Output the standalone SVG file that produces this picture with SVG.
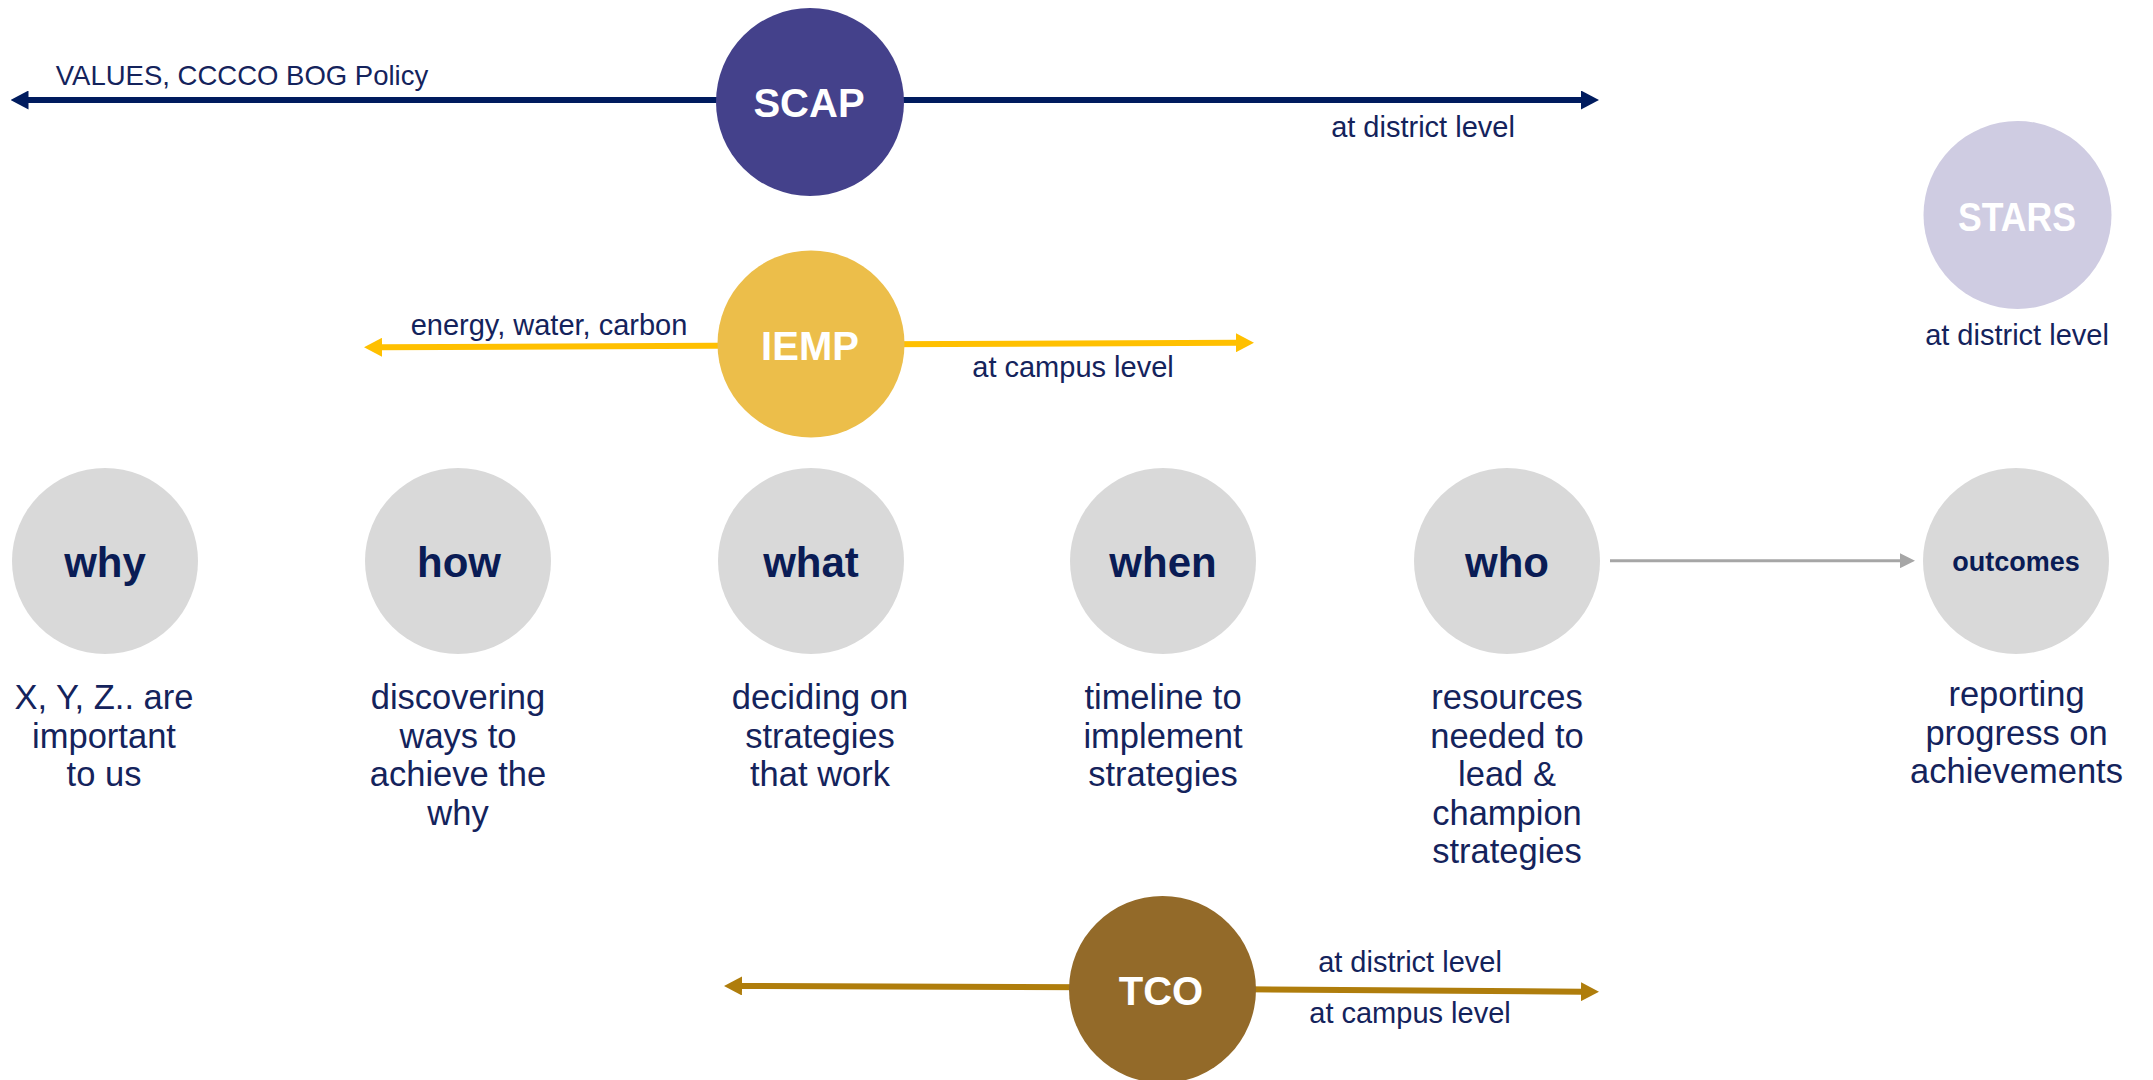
<svg xmlns="http://www.w3.org/2000/svg" width="2153" height="1080" viewBox="0 0 2153 1080">
<style>
  .lbl { font-family: "Liberation Sans", Arial, sans-serif; font-size: 29px; fill: #14235C; }
  .desc { font-family: "Liberation Sans", Arial, sans-serif; font-size: 34.5px; fill: #14235C; text-anchor: middle; }
  .ttl { font-family: "Liberation Sans", Arial, sans-serif; font-size: 42px; font-weight: bold; fill: #0A1C55; text-anchor: middle; }
  .big { font-family: "Liberation Sans", Arial, sans-serif; font-size: 40px; font-weight: bold; fill: #FFFFFF; text-anchor: middle; }
  .gray { fill: #D9D9D9; }
</style>
<defs>
  <marker id="hNavy" markerUnits="userSpaceOnUse" markerWidth="18" markerHeight="19" refX="2" refY="9.5" orient="auto"><path d="M0,0 L18,9.5 L0,19 z" fill="#001B5E"/></marker>
  <marker id="hGold" markerUnits="userSpaceOnUse" markerWidth="18" markerHeight="19" refX="2" refY="9.5" orient="auto"><path d="M0,0 L18,9.5 L0,19 z" fill="#FFC000"/></marker>
  <marker id="hBrown" markerUnits="userSpaceOnUse" markerWidth="18" markerHeight="19" refX="2" refY="9.5" orient="auto"><path d="M0,0 L18,9.5 L0,19 z" fill="#AF7D0C"/></marker>
  <marker id="hGray" markerUnits="userSpaceOnUse" markerWidth="15" markerHeight="15" refX="2" refY="7.5" orient="auto"><path d="M0,0 L15,7.5 L0,15 z" fill="#A6A6A6"/></marker>
</defs>
<rect width="2153" height="1080" fill="#FFFFFF"/>

<g id="connectors">
  <line x1="810" y1="100" x2="26.5" y2="100" stroke="#001B5E" stroke-width="6" marker-end="url(#hNavy)"/>
  <line x1="810" y1="100" x2="1583" y2="100" stroke="#001B5E" stroke-width="6" marker-end="url(#hNavy)"/>
  <line x1="811" y1="345.3" x2="380" y2="347.3" stroke="#FFC000" stroke-width="6" marker-end="url(#hGold)"/>
  <line x1="811" y1="344.6" x2="1238" y2="342.7" stroke="#FFC000" stroke-width="6" marker-end="url(#hGold)"/>
  <line x1="1162" y1="987.6" x2="740" y2="986" stroke="#AF7D0C" stroke-width="6" marker-end="url(#hBrown)"/>
  <line x1="1162" y1="988.6" x2="1583" y2="991.7" stroke="#AF7D0C" stroke-width="6" marker-end="url(#hBrown)"/>
  <line x1="1610" y1="560.7" x2="1902" y2="560.7" stroke="#A6A6A6" stroke-width="3" marker-end="url(#hGray)"/>
</g>

<g id="labels">
  <text class="lbl" x="242" y="85" text-anchor="middle" style="font-size:27.5px">VALUES, CCCCO BOG Policy</text>
  <text class="lbl" x="1423" y="137" text-anchor="middle">at district level</text>
  <text class="lbl" x="549" y="335" text-anchor="middle">energy, water, carbon</text>
  <text class="lbl" x="1073" y="377" text-anchor="middle">at campus level</text>
  <text class="lbl" x="1410" y="972" text-anchor="middle">at district level</text>
  <text class="lbl" x="1410" y="1023" text-anchor="middle">at campus level</text>
</g>

<g id="node-scap">
  <circle cx="810" cy="102" r="94" fill="#44418B"/>
  <text class="big" x="809" y="117">SCAP</text>
</g>
<g id="node-iemp">
  <circle cx="811" cy="344" r="93.5" fill="#ECBE4A"/>
  <text class="big" x="810" y="360">IEMP</text>
</g>
<g id="node-tco">
  <circle cx="1162.5" cy="989.5" r="93.5" fill="#936A29"/>
  <text class="big" x="1161" y="1005">TCO</text>
</g>
<g id="node-stars">
  <circle cx="2017.5" cy="215" r="94" fill="#CFCCE2"/>
  <text class="big" x="2017" y="231" textLength="118" lengthAdjust="spacingAndGlyphs">STARS</text>
  <text class="lbl" x="2017" y="345" text-anchor="middle">at district level</text>
</g>

<g id="node-why">
  <circle class="gray" cx="105" cy="561" r="93"/>
  <text class="ttl" x="105" y="577">why</text>
  <text class="desc" x="104" y="709">X, Y, Z.. are</text>
  <text class="desc" x="104" y="747.5">important</text>
  <text class="desc" x="104" y="786">to us</text>
</g>
<g id="node-how">
  <circle class="gray" cx="458" cy="561" r="93"/>
  <text class="ttl" x="459" y="577">how</text>
  <text class="desc" x="458" y="709">discovering</text>
  <text class="desc" x="458" y="747.5">ways to</text>
  <text class="desc" x="458" y="786">achieve the</text>
  <text class="desc" x="458" y="824.5">why</text>
</g>
<g id="node-what">
  <circle class="gray" cx="811" cy="561" r="93"/>
  <text class="ttl" x="811" y="577">what</text>
  <text class="desc" x="820" y="709">deciding on</text>
  <text class="desc" x="820" y="747.5">strategies</text>
  <text class="desc" x="820" y="786">that work</text>
</g>
<g id="node-when">
  <circle class="gray" cx="1163" cy="561" r="93"/>
  <text class="ttl" x="1163" y="577">when</text>
  <text class="desc" x="1163" y="709">timeline to</text>
  <text class="desc" x="1163" y="747.5">implement</text>
  <text class="desc" x="1163" y="786">strategies</text>
</g>
<g id="node-who">
  <circle class="gray" cx="1507" cy="561" r="93"/>
  <text class="ttl" x="1507" y="577">who</text>
  <text class="desc" x="1507" y="709">resources</text>
  <text class="desc" x="1507" y="747.5">needed to</text>
  <text class="desc" x="1507" y="786">lead &amp;</text>
  <text class="desc" x="1507" y="824.5">champion</text>
  <text class="desc" x="1507" y="863">strategies</text>
</g>
<g id="node-outcomes">
  <circle class="gray" cx="2016" cy="561" r="93"/>
  <text class="ttl" x="2016" y="571" style="font-size:27px">outcomes</text>
  <text class="desc" x="2016.5" y="706">reporting</text>
  <text class="desc" x="2016.5" y="744.5">progress on</text>
  <text class="desc" x="2016.5" y="783">achievements</text>
</g>
</svg>
